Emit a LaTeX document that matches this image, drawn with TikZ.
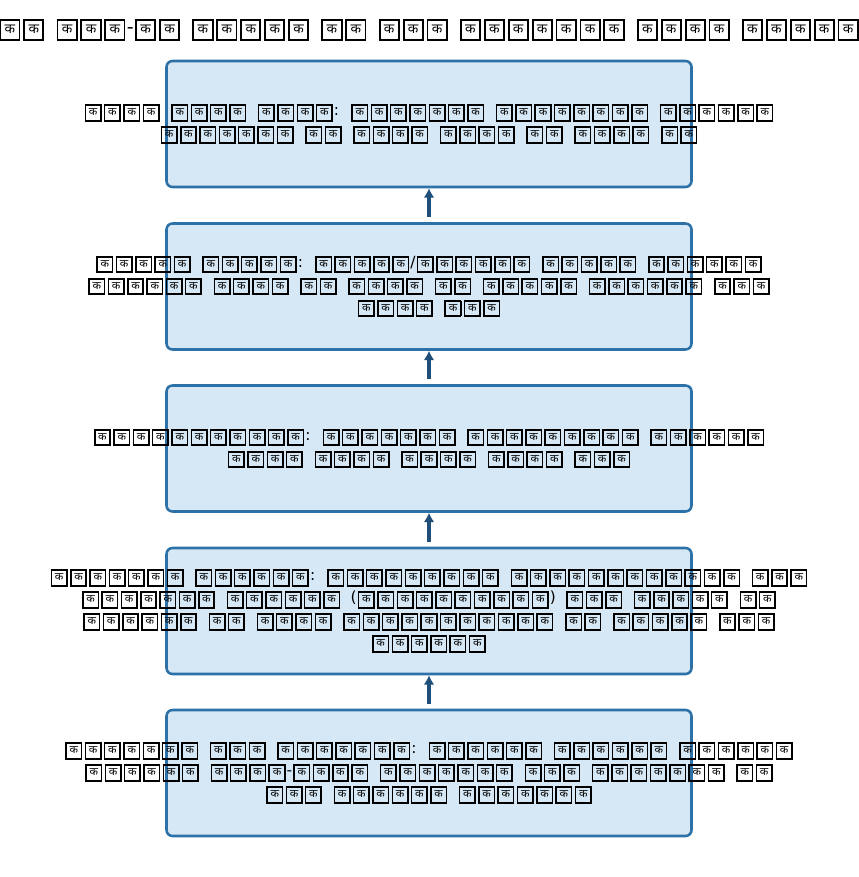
\documentclass[tikz,border=0pt]{standalone}
\usepackage{fontspec}
\usepackage{xcolor}
\usepackage{tikz}
\usetikzlibrary{arrows.meta}
\setmainfont{DejaVu Sans}
\newfontfamily\devfont[Script=Devanagari,Scale=0.72]{Noto Sans}
\definecolor{boxfill}{HTML}{D6E8F5}
\definecolor{boxedge}{HTML}{2C72A8}
\definecolor{flowcol}{HTML}{1F4E79}
% every Devanagari letter is printed as the boxed glyph seen in the picture
\newcommand{\tofuglyph}{\kern0.075em\relax{\setlength\fboxsep{0.07em}\setlength\fboxrule{0.1em}%
  \fbox{\makebox[0.77em]{\rule[-0.19em]{0pt}{0.77em}\devfont\char"0915}}}\kern0.075em\relax}
\catcode`\क=\active
\defक{\tofuglyph}
\newcommand{\bodyfont}{\fontsize{11.5}{16.5}\selectfont\spaceskip=7pt\relax}
\newcommand{\headfont}{\fontsize{14.25}{18}\selectfont\spaceskip=7pt\relax}
\tikzset{
  stagebox/.style={draw=boxedge, fill=boxfill, line width=1.9pt, rounded corners=4.5pt,
    minimum width=393.75pt, minimum height=94.5pt, inner sep=0pt},
  stagetxt/.style={align=center, inner sep=0pt, font=\bodyfont},
  headtxt/.style={inner sep=0pt, font=\headfont},
  flow/.style={draw=flowcol, line width=2.4pt, -{Latex[length=7pt,width=8pt]}, shorten <=3.75pt},
}

\begin{document}
\begin{tikzpicture}[x=0.75pt, y=-0.75pt]
  \useasboundingbox[fill=white] (0,0) rectangle (858,877);

  \node[headtxt] (head) at (429,30) {कक ककक-कक ककककक कक ककक ककककककक कककक ककककक};

  % Stages, bottom to top
  \node[stagebox] (lvl5) at (429,124) {};
  \node[stagebox] (lvl4) at (429,286.5) {};
  \node[stagebox] (lvl3) at (429,448.5) {};
  \node[stagebox] (lvl2) at (429,611) {};
  \node[stagebox] (lvl1) at (429,773) {};

  \node[stagetxt] (txt5) at (lvl5) {कककक कककक कककक: ककककककक कककककककक कककककक\\
    ककककककक कक कककक कककक कक कककक कक};
  \node[stagetxt] (txt4) at (lvl4) {ककककक ककककक: ककककक/कककककक ककककक कककककक\\
    कककककक कककक कक कककक कक ककककक कककककक ककक\\
    कककक ककक};
  \node[stagetxt] (txt3) at (lvl3) {ककककककककककक: ककककककक ककककककककक कककककक\\
    कककक कककक कककक कककक ककक};
  \node[stagetxt] (txt2) at (lvl2) {ककककककक कककककक: ककककककककक कककककककककककक ककक\\
    ककककककक कककककक (कककककककककक) ककक ककककक कक\\
    कककककक कक कककक ककककककककककक कक ककककक ककक\\
    कककककक};
  \node[stagetxt] (txt1) at (lvl1) {ककककककक ककक ककककककक: कककककक कककककक कककककक\\
    कककककक कककक-कककक ककककककक ककक ककककककक कक\\
    ककक कककककक ककककककक};

  % Arrows
  \draw[flow] (lvl1.north) -- (lvl2.south);
  \draw[flow] (lvl2.north) -- (lvl3.south);
  \draw[flow] (lvl3.north) -- (lvl4.south);
  \draw[flow] (lvl4.north) -- (lvl5.south);
\end{tikzpicture}
\end{document}
